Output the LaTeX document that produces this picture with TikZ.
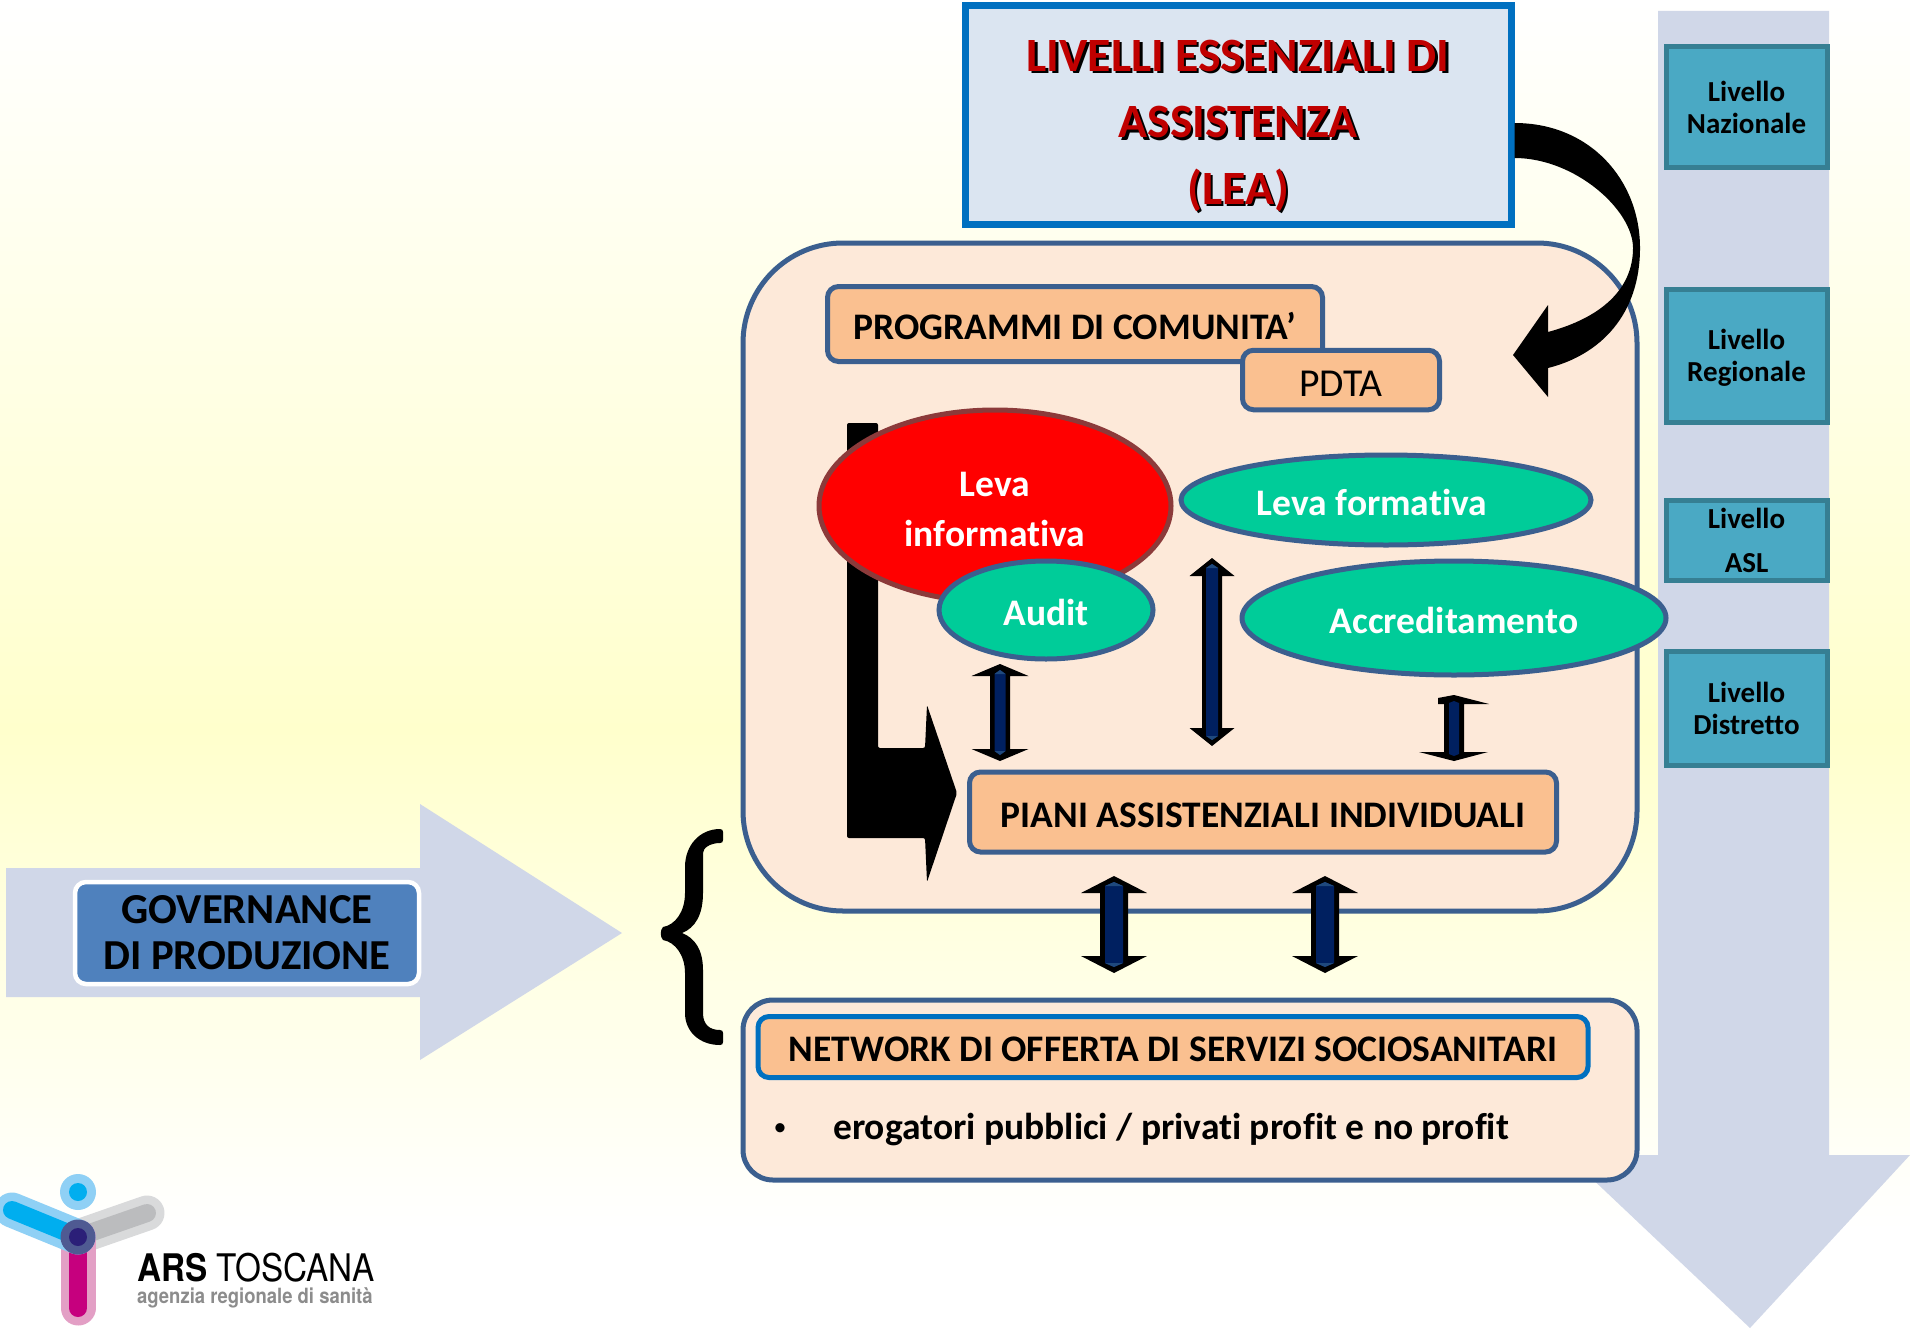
\documentclass[tikz,border=0pt]{standalone}
\usepackage{fontspec}
\setmainfont{Carlito}[Ligatures=NoCommon]
\newfontfamily\logofont{TeX Gyre Heros}
\usetikzlibrary{shapes.geometric}
\definecolor{bandblue}{HTML}{D0D7E8}
\definecolor{peach}{HTML}{FDE9D9}
\definecolor{orangebox}{HTML}{FAC090}
\definecolor{edgeblue}{HTML}{3B5F8F}
\definecolor{leablue}{HTML}{0070C0}
\definecolor{leafill}{HTML}{DBE5F1}
\definecolor{teal1}{HTML}{4AA9C4}
\definecolor{teal2}{HTML}{367F93}
\definecolor{green1}{HTML}{00CC99}
\definecolor{red1}{HTML}{FF0000}
\definecolor{redge}{HTML}{8C3A3A}
\definecolor{govblue}{HTML}{4F81BD}
\definecolor{navy1}{HTML}{002060}
\definecolor{navy2}{HTML}{1F497D}
\definecolor{lea1}{HTML}{C00000}
\definecolor{bgyellow}{HTML}{FFFFCC}
\definecolor{logoblue}{HTML}{00AEEF}
\definecolor{logoblueb}{HTML}{8FD0F5}
\definecolor{logogrey}{HTML}{BBBCBE}
\definecolor{logogreyb}{HTML}{D9DADB}
\definecolor{logomag}{HTML}{C6007E}
\definecolor{logomagb}{HTML}{E39FC5}
\definecolor{logocore}{HTML}{2B1F78}
\definecolor{logocoreb}{HTML}{4F5A92}
\newcommand{\fsz}[1]{\fontsize{#1pt}{#1pt}\selectfont}
\newcommand{\shad}[1]{\leavevmode\rlap{\kern2.5pt\raisebox{-2.5pt}{\color{black}#1}}{\color{lea1}#1}}
% centre x, top tip, top base, bottom base, bottom tip, shaft half width, head half width, inner half width
\newcommand{\dblarrow}[8]{%
  \fill[black] (#1-#6,#3)--(#1-#7,#3)--(#1,#2)--(#1+#7,#3)--(#1+#6,#3)--(#1+#6,#4)--(#1+#7,#4)--(#1,#5)--(#1-#7,#4)--(#1-#6,#4)--cycle;
  \fill[navy1] (#1-#8,#2+10)--(#1,#2+6)--(#1+#8,#2+10)--(#1+#8,#5-10)--(#1,#5-6)--(#1-#8,#5-10)--cycle;
  \fill[navy2] (#1-#8,#2+10)--(#1,#2+6)--(#1+#8,#2+10)--cycle;
  \fill[navy2] (#1-#8,#5-10)--(#1,#5-6)--(#1+#8,#5-10)--cycle;
}
\tikzset{
  orangenode/.style={draw=edgeblue,fill=orangebox,line width=5pt,rounded corners=11pt,inner sep=0pt},
  levelnode/.style={draw=teal2,fill=teal1,line width=5pt,align=center,inner sep=0pt,font=\fsz{29}\bfseries,text=black},
  greenell/.style={ellipse,draw=edgeblue,fill=green1,line width=5pt,text=white,font=\fsz{37.5}\bfseries,inner sep=0pt,text height=31pt,text depth=0pt},
  bigpanel/.style={draw=edgeblue,fill=peach,line width=5pt,inner sep=0pt},
  oneline/.style={font=\fsz{37.5}\bfseries,text height=31pt,text depth=0pt},
}
\begin{document}
\begin{tikzpicture}[x=1pt,y=-1pt]
\useasboundingbox (0,0) rectangle (1910,1330);
% background
\fill[white] (0,0) rectangle (1910,1330);
\shade[top color=white,bottom color=bgyellow] (0,0) rectangle (1910,730);
\shade[top color=bgyellow,bottom color=white] (0,730) rectangle (1910,1230);
% band arrows
\fill[bandblue] (1658,11)--(1829,11)--(1829,1155)--(1910,1155)--(1750,1328)--(1567,1155)--(1658,1155)--cycle;
\fill[bandblue] (6,868)--(420,868)--(420,804)--(622,933)--(420,1060)--(420,997)--(6,997)--cycle;
% panels
\node[bigpanel,rounded corners=100pt,minimum width=894pt,minimum height=668pt] (panel) at (1190,577) {};
\node[bigpanel,rounded corners=30pt,minimum width=894pt,minimum height=180pt] (netpanel) at (1190,1090) {};
% LEA
\node[draw=leablue,fill=leafill,line width=7pt,minimum width=546pt,minimum height=219pt,inner sep=0pt] (lea) at (1238,115) {};
\node[inner sep=0pt,align=center,font=\fsz{47.8}\bfseries] (leatext) at (1238,127)
 {\shad{LIVELLI ESSENZIALI DI}\\[18.6pt]\shad{ASSISTENZA}\\[18.6pt]\shad{(LEA)}};
% curved arrow
\fill[black] (lea.east |- 0,123) .. controls (1590,123) and (1640,180) .. (1640,248)
  .. controls (1640,315) and (1600,355) .. (1548,368) -- (1548,397) -- (1513,355) -- (1548,305) -- (1548,332)
  .. controls (1600,318) and (1633,290) .. (1633,248)
  .. controls (1633,210) and (1575,158) .. (lea.east |- 0,158) -- cycle;
% orange boxes
\node[orangenode,oneline,minimum width=495pt,minimum height=75pt] (prog) at (1075,324) {PROGRAMMI DI COMUNITA’};
\node[orangenode,minimum width=197pt,minimum height=59.5pt,font=\fsz{39.6},text height=32pt,text depth=0pt] (pdta) at (1341,380) {PDTA};
% bent arrow
\fill[black,rounded corners=2pt] (847,423)--(878,423)--(878,748)--(925,748)--(927,705)--(957,793)--(927,882)--(925,838)--(847,838)--cycle;
% ellipses
\node[ellipse,draw=redge,fill=red1,line width=5pt,minimum width=352pt,minimum height=192pt,inner sep=0pt,align=center,text=white,font=\fsz{37.5}\bfseries] (info) at (995,506) {\rule{0pt}{32pt}Leva\\[12.5pt]informativa};
\node[greenell,minimum width=214pt,minimum height=98pt] (audit) at (1046,610) {Audit};
\node[greenell,minimum width=410pt,minimum height=90pt] (form) at (1386,500) {Leva formativa\hspace*{28pt}};
\node[greenell,minimum width=424pt,minimum height=114pt] (accr) at (1454,618) {Accreditamento};
% double arrows
\dblarrow{1000}{664}{676}{749}{761}{10}{28.5}{5.5}
\dblarrow{1212}{558}{576}{728}{746}{10}{22.5}{6}
\fill[black] (1444,704)--(1438,704)--(1438,698)--(1454,695)--(1489,704)--(1464,704)--(1464,752)--(1488,752)--(1454,761)--(1419,752)--(1444,752)--cycle;
\fill[navy1] (1449,703)--(1454,701)--(1459,703)--(1459,754)--(1454,756)--(1449,754)--cycle;
\dblarrow{1114}{876}{893}{956}{973}{14}{33}{9}
\dblarrow{1325}{876}{893}{956}{973}{14}{33}{9}
% PIANI
\node[orangenode,oneline,minimum width=587pt,minimum height=80pt] (piani) at (1263,812) {PIANI ASSISTENZIALI INDIVIDUALI};
% network
\node[orangenode,font=\fsz{37.5}\bfseries,text height=29.5pt,text depth=0pt,draw=leablue,minimum width=830pt,minimum height=61pt] (net) at (1173,1047) {NETWORK DI OFFERTA DI SERVIZI SOCIOSANITARI};
\node[inner sep=0pt,font=\fsz{26}] (netbullet) at (780,1130) {•};
\node[inner sep=0pt,font=\fsz{37.5}\bfseries,anchor=west] (nettext) at (833,1130) {erogatori pubblici / privati profit e no profit};
% brace
\fill[black] (720,829) .. controls (700,829) and (685,845) .. (685,867)
  -- (685,893) .. controls (685,912) and (675,925) .. (663,927)
  .. controls (660,930) and (660,937) .. (663,940)
  .. controls (675,942) and (685,955) .. (685,973)
  -- (685,1013) .. controls (685,1032) and (700,1045) .. (720,1045)
  .. controls (722,1045) and (723,1044) .. (723,1042) -- (723,1033)
  .. controls (723,1031) and (722,1030) .. (720,1030)
  .. controls (710,1030) and (703,1025) .. (703,1013)
  -- (703,970) .. controls (703,950) and (695,938) .. (682,933)
  .. controls (695,928) and (703,915) .. (703,893)
  -- (703,853) .. controls (703,848) and (710,843) .. (720,843)
  .. controls (722,843) and (723,842) .. (723,840) -- (723,832)
  .. controls (723,830) and (722,829) .. (720,829) -- cycle;
% governance
\node[draw=white,fill=govblue,line width=4.5pt,rounded corners=11pt,minimum width=344pt,minimum height=102pt,inner sep=0pt,align=center,font=\fsz{42.7}\bfseries] (gov) at (247,933) {GOVERNANCE\\[3.5pt]DI PRODUZIONE};
% levels
\node[levelnode,minimum width=161pt,minimum height=120pt] (l1) at (1746.5,107) {Livello\\[3pt]Nazionale};
\node[levelnode,minimum width=161pt,minimum height=133pt] (l2) at (1746.5,356) {\rule{0pt}{24pt}Livello\\[3pt]Regionale};
\node[levelnode,minimum width=161pt,minimum height=80pt] (l3) at (1746.5,540.5) {Livello\\[15pt]ASL};
\node[levelnode,minimum width=161pt,minimum height=114pt] (l4) at (1746.5,708.5) {Livello\\[3pt]Distretto};
% logo
\begin{scope}[line cap=round]
\fill[logoblueb] (78,1192) circle (18);
\fill[logoblue] (78,1192) circle (9);
\draw[logogreyb,line width=35pt] (78,1237)--(147,1213);
\draw[logogrey,line width=18pt] (78,1237)--(147,1213);
\draw[logomagb,line width=35pt] (78,1237)--(78,1308);
\draw[logomag,line width=18pt] (78,1237)--(78,1308);
\draw[logoblueb,line width=35pt] (12,1210)--(78,1237);
\draw[logoblue,line width=18pt] (12,1210)--(78,1237);
\fill[logocoreb] (78,1237) circle (17.5);
\fill[logocore] (78,1237) circle (9);
\end{scope}
\node[inner sep=0pt,anchor=base west] (ars) at (137,1281) {\logofont\fsz{38}\scalebox{0.875}[1]{\textbf{ARS} TOSCANA}};
\node[inner sep=0pt,anchor=base west,text=black!45] (agz) at (137,1303) {\logofont\fsz{21}\bfseries\scalebox{0.88}[1]{agenzia regionale di sanità}};
\end{tikzpicture}
\end{document}
